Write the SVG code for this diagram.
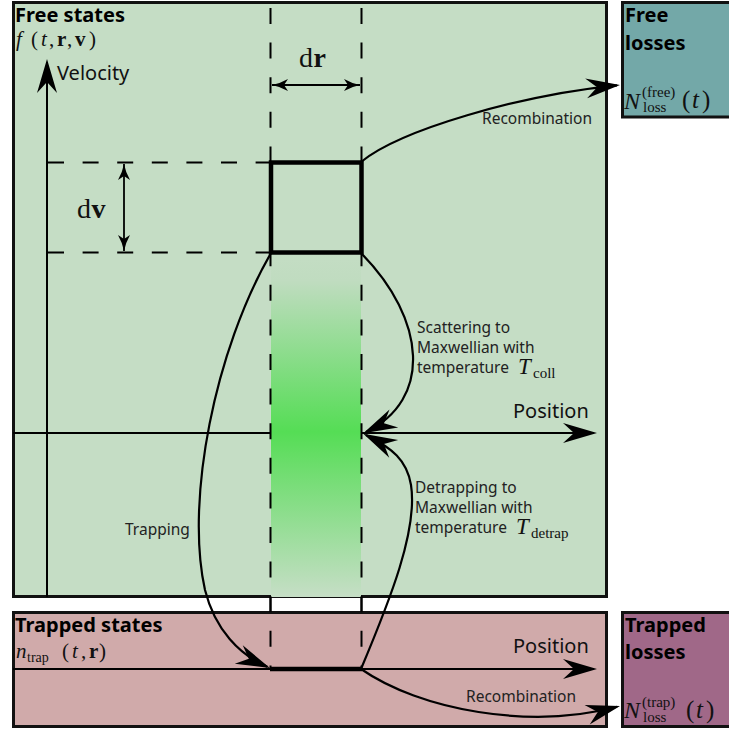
<svg xmlns="http://www.w3.org/2000/svg" width="729" height="732" viewBox="0 0 729 732">
<defs>
<linearGradient id="grad" x1="0" y1="253" x2="0" y2="597" gradientUnits="userSpaceOnUse">
<stop offset="0" stop-color="#c4ddc4"/>
<stop offset="0.08" stop-color="#c0dcc0"/>
<stop offset="0.52" stop-color="#55dd55"/>
<stop offset="1" stop-color="#c6dec6"/>
</linearGradient>
<marker id="ah" viewBox="-36 -12 42 24" refX="-3" refY="0" markerWidth="42" markerHeight="24" markerUnits="userSpaceOnUse" orient="auto">
<path d="M0,0 L-34,-10 L-23,0 L-34,10 Z" fill="#000"/>
</marker>
<marker id="sm" viewBox="-18 -8 20 16" refX="0" refY="0" markerWidth="20" markerHeight="16" markerUnits="userSpaceOnUse" orient="auto-start-reverse">
<path d="M0,0 Q-8,-1.5 -16,-6 L-12,0 L-16,6 Q-8,1.5 0,0 Z" fill="#000"/>
</marker>
</defs>
<style>
.box{stroke:#111;stroke-width:3}
.ax{stroke:#000;stroke-width:2;fill:none}
.axa{stroke:#000;stroke-width:2;fill:none;marker-end:url(#ah)}
.cv{stroke:#000;stroke-width:2.2;fill:none;marker-end:url(#ah)}
.dash{stroke:#000;stroke-width:2;stroke-dasharray:16 18.6;fill:none}
.dbl{stroke:#000;stroke-width:1.8;fill:none;marker-start:url(#sm);marker-end:url(#sm)}
.thick{stroke:#000;stroke-width:4.5;fill:none}
.lbl{font-family:"Noto Sans",sans-serif;font-size:15.5px;fill:#222}
.ttl{font-family:"Noto Sans",sans-serif;font-size:20px;font-weight:bold;fill:#000}
.axl{font-family:"Noto Sans",sans-serif;font-size:20px;fill:#111}
.m{font-family:"Liberation Serif",serif;fill:#111}
.i{font-style:italic}
.b{font-weight:bold}
</style>

<g id="free-states">
<rect class="box" x="13.5" y="2.5" width="593" height="594" fill="#c5ddc5"/>
<text class="ttl" x="15" y="22">Free states</text>
<text class="m" font-size="21" y="46"><tspan class="i" x="16">f</tspan><tspan x="31">(</tspan><tspan class="i" x="41">t</tspan><tspan x="49">,</tspan><tspan class="b" x="57">r</tspan><tspan x="67">,</tspan><tspan class="b" x="75">v</tspan><tspan x="89">)</tspan></text>
</g>

<g id="free-losses">
<rect class="box" x="622.5" y="2.5" width="112" height="114.5" fill="#73a8a8"/>
<text class="ttl" x="625" y="22">Free</text>
<text class="ttl" x="625" y="50">losses</text>
<text class="m"><tspan class="i" x="624" y="109" font-size="24">N</tspan><tspan x="642" y="97" font-size="15">(free)</tspan><tspan x="643" y="112" font-size="15">loss</tspan><tspan x="682" y="108" font-size="25">(</tspan><tspan class="i" x="692" y="108" font-size="25">t</tspan><tspan x="702" y="108" font-size="25">)</tspan></text>
</g>

<g id="trapped-states">
<rect class="box" x="13.5" y="612.5" width="593" height="114" fill="#d0aaaa"/>
<text class="ttl" x="15" y="632">Trapped states</text>
<text class="m"><tspan class="i" x="16" y="658" font-size="21">n</tspan><tspan x="27" y="662" font-size="14">trap</tspan><tspan x="62" y="658" font-size="21">(</tspan><tspan class="i" x="72" y="658" font-size="21">t</tspan><tspan x="81" y="658" font-size="21">,</tspan><tspan class="b" x="89" y="658" font-size="21">r</tspan><tspan x="99" y="658" font-size="21">)</tspan></text>
</g>

<g id="trapped-losses">
<rect class="box" x="622.5" y="612.5" width="112" height="114" fill="#a06888"/>
<text class="ttl" x="625" y="632">Trapped</text>
<text class="ttl" x="625" y="659">losses</text>
<text class="m"><tspan class="i" x="624" y="718" font-size="24">N</tspan><tspan x="642" y="707" font-size="15">(trap)</tspan><tspan x="643" y="722" font-size="15">loss</tspan><tspan x="686" y="718" font-size="25">(</tspan><tspan class="i" x="696" y="718" font-size="25">t</tspan><tspan x="706" y="718" font-size="25">)</tspan></text>
</g>

<g id="axes">
<path class="axa" d="M47,597 V62"/>
<text class="axl" x="57" y="80">Velocity</text>
<path class="axa" d="M13,433 H594"/>
<text class="axl" x="513" y="418">Position</text>
<path class="axa" d="M13,669 H594"/>
<text class="axl" x="513" y="653">Position</text>
</g>

<g id="element">
<rect x="271" y="253" width="90" height="344" fill="url(#grad)"/>
<path class="dash" d="M270.5,8 V669 M361.5,8 V669 M48,162.5 H271 M48,252.5 H271"/>
<path class="ax" d="M270.5,597 V612 M361.5,597 V612"/>
<rect class="thick" x="271" y="162.5" width="90.5" height="90"/>
<path class="thick" d="M270,669 H362"/>
<path class="dbl" d="M272,85 H360"/>
<text class="m" font-size="28" y="67"><tspan x="299">d</tspan><tspan class="b" x="313.5">r</tspan></text>
<path class="dbl" d="M124,164 V251"/>
<text class="m" font-size="28" y="218"><tspan x="77">d</tspan><tspan class="b" x="91.5">v</tspan></text>
</g>

<g id="connectors">
<path class="cv" d="M361,162 C400,130 520,95 617,85.3"/>
<text class="lbl" x="482" y="124">Recombination</text>
<path class="cv" d="M361,253 C427,320 432,400 366,432"/>
<text class="lbl" x="417" y="333">Scattering to</text>
<text class="lbl" x="417" y="353">Maxwellian with</text>
<text class="lbl" x="417" y="373">temperature</text>
<text class="m"><tspan class="i" x="518" y="374" font-size="23">T</tspan><tspan x="533" y="378" font-size="15">coll</tspan></text>
<path class="cv" d="M361,669 C390,600 418,530 411,485 C407,460 392,448 366,435"/>
<text class="lbl" x="415" y="493">Detrapping to</text>
<text class="lbl" x="415" y="513">Maxwellian with</text>
<text class="lbl" x="415" y="533">temperature</text>
<text class="m"><tspan class="i" x="516" y="534" font-size="23">T</tspan><tspan x="531" y="538" font-size="15">detrap</tspan></text>
<path class="cv" d="M271,253 C215,350 185,500 205,590 C215,630 240,655 267.2,666.8"/>
<text class="lbl" x="125" y="535">Trapping</text>
<path class="cv" d="M361,669 C420,710 530,730 617.1,706.8"/>
<text class="lbl" x="466" y="702">Recombination</text>
</g>
</svg>
